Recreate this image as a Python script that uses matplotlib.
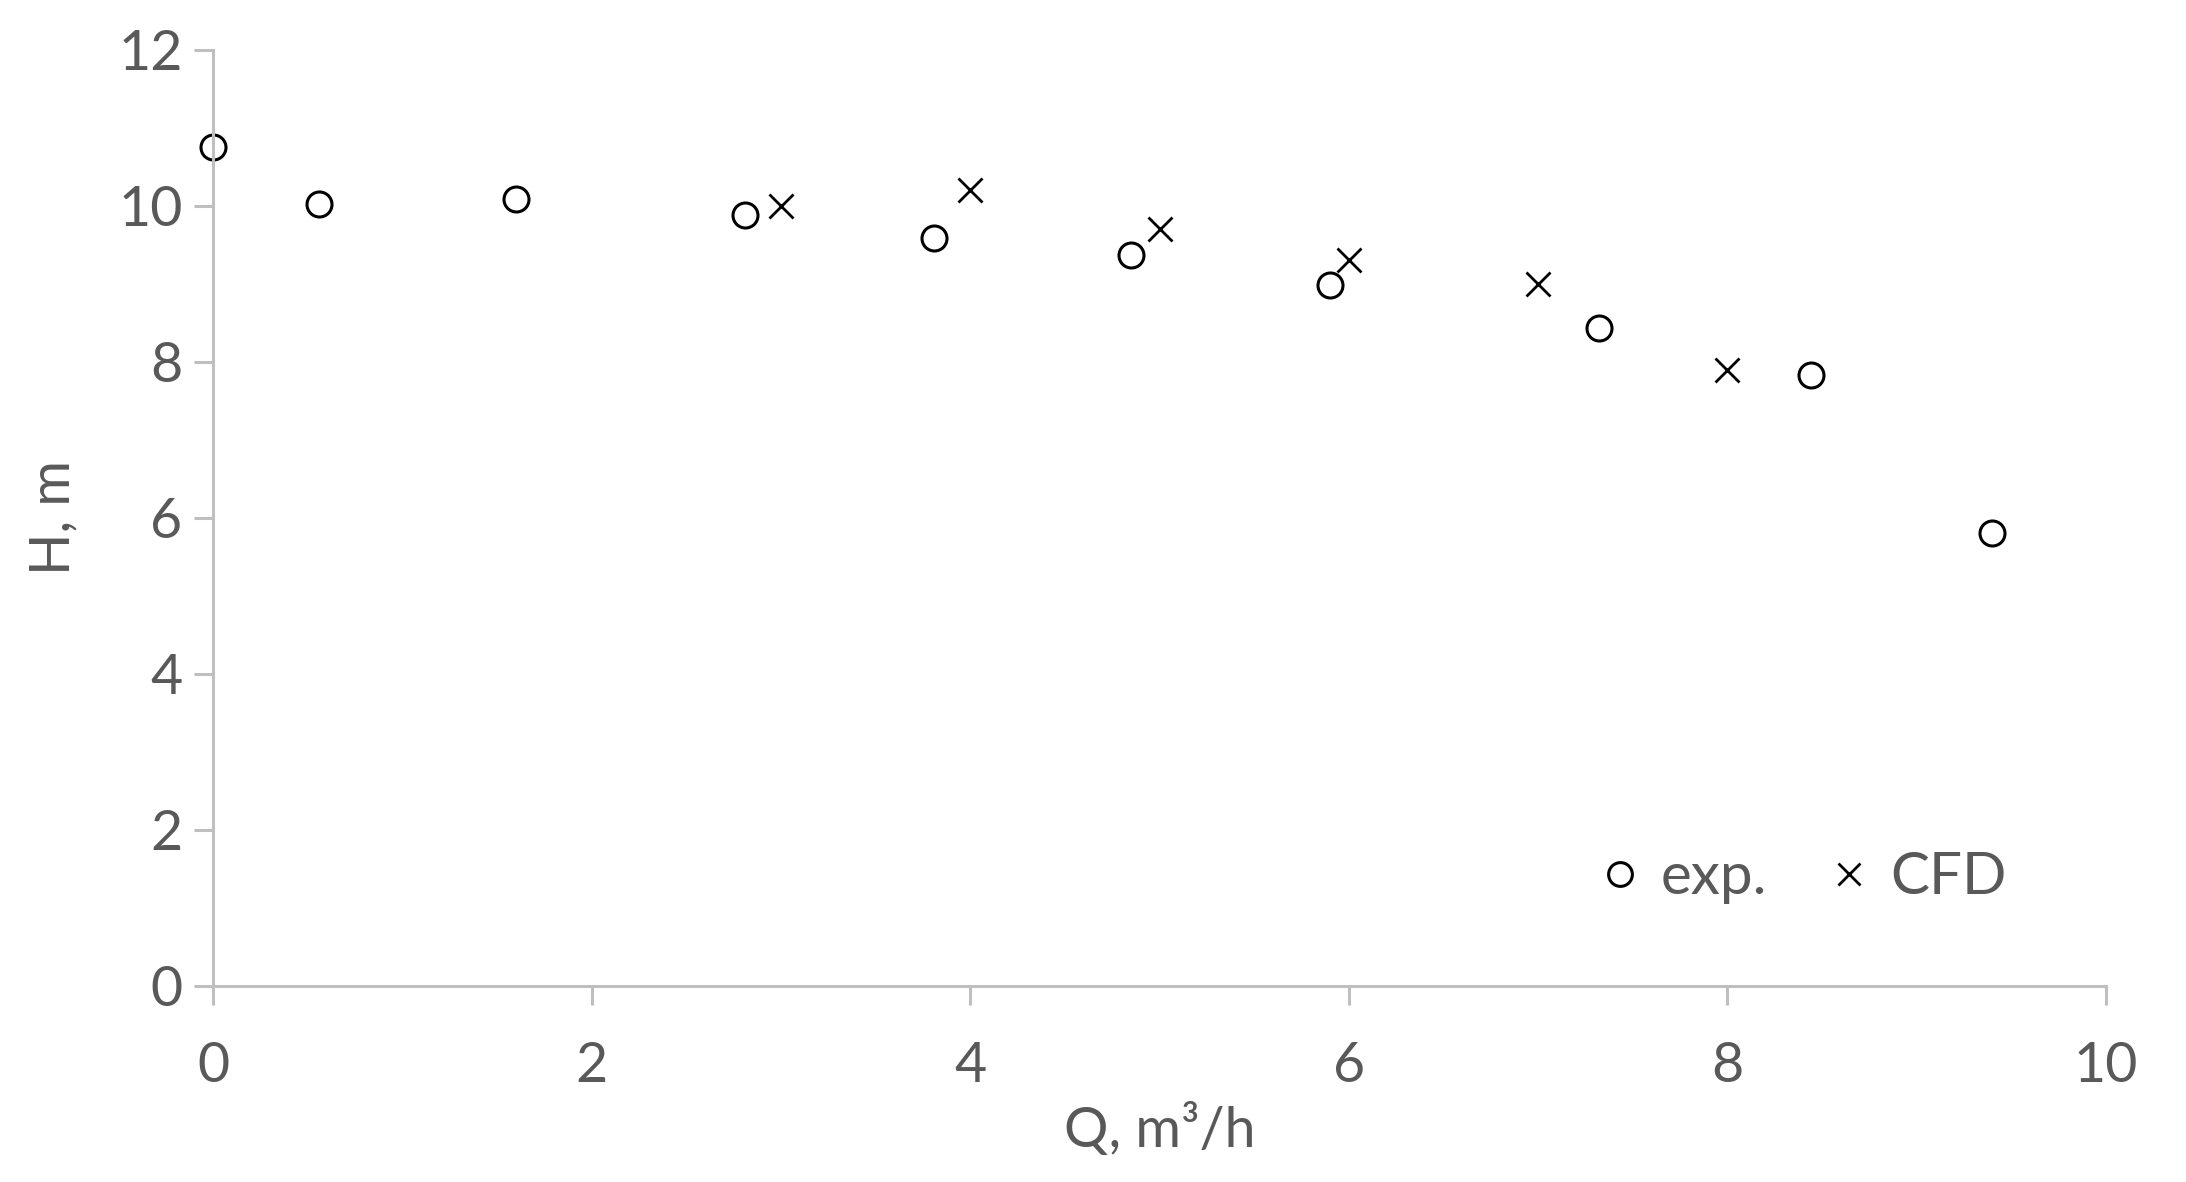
import matplotlib.pyplot as plt

# experimental points
q_exp = [0.0, 0.56, 1.60, 2.81, 3.81, 4.85, 5.90, 7.32, 8.44, 9.40]
h_exp = [10.75, 10.03, 10.09, 9.89, 9.59, 9.37, 8.98, 8.44, 7.83, 5.81]

# CFD points
q_cfd = [3, 4, 5, 6, 7, 8]
h_cfd = [10.0, 10.2, 9.7, 9.3, 9.0, 7.9]

x_ticks = [0, 2, 4, 6, 8, 10]
y_ticks = [0, 2, 4, 6, 8, 10, 12]

plt.rcParams['font.family'] = ['Lato', 'DejaVu Sans']
grey = '#595959'
axis_col = '#BFBFBF'
fs = 40

fig = plt.figure(figsize=(21.86, 11.82), dpi=100)
ax = fig.add_axes([0.0975, 0.1662, 0.8659, 0.7915])

ax.plot(q_exp, h_exp, linestyle='none', marker='o', markersize=18,
        markerfacecolor='none', markeredgecolor='black', markeredgewidth=2.2,
        label='exp.', clip_on=False)
ax.plot(q_cfd, h_cfd, linestyle='none', marker='x', markersize=17,
        color='black', markeredgewidth=2.0, label='CFD', clip_on=False)

ax.set_xlim(0, 10)
ax.set_ylim(0, 12)
ax.set_xticks(x_ticks)
ax.set_yticks(y_ticks)

for s in ['top', 'right']:
    ax.spines[s].set_visible(False)
for s in ['left', 'bottom']:
    ax.spines[s].set_color(axis_col)
    ax.spines[s].set_linewidth(2.2)

ax.tick_params(axis='both', colors=axis_col, length=14, width=2.2,
               labelcolor=grey, labelsize=fs)
ax.tick_params(axis='x', pad=26)
ax.tick_params(axis='y', pad=8)

ax.set_xlabel('Q, m³/h', fontsize=fs, color=grey, labelpad=8)
ax.set_ylabel('H, m', fontsize=fs, color=grey, labelpad=28)

leg = ax.legend(loc='center right', bbox_to_anchor=(0.975, 0.115), ncol=2,
                frameon=False, fontsize=fs + 2, handletextpad=0.2,
                columnspacing=0.9, handlelength=1.0, markerscale=0.95)
for t in leg.get_texts():
    t.set_color(grey)

fig.savefig('out.png', dpi=100)
